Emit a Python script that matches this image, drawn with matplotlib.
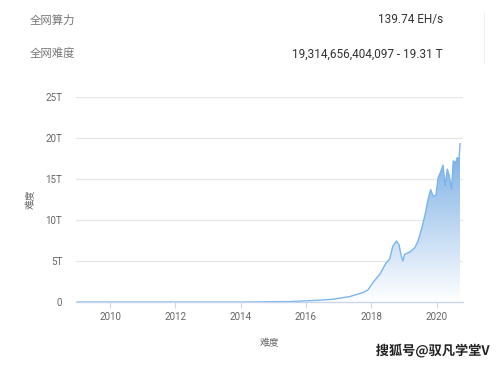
import numpy as np
import matplotlib
matplotlib.use("Agg")
import matplotlib.pyplot as plt
from matplotlib.patches import Polygon
import matplotlib.patheffects as pe

# ---- data (difficulty in T, time as decimal year) ----
years = [2009.0, 2010.0, 2011.0, 2012.0, 2013.0, 2013.5, 2014.0, 2014.5, 2015.0, 2015.5,
         2015.8, 2016.3, 2016.82, 2017.33, 2017.74, 2017.9, 2018.05, 2018.26, 2018.46,
         2018.56, 2018.66, 2018.77, 2018.85, 2018.92, 2018.97, 2019.02, 2019.18, 2019.33,
         2019.43, 2019.54, 2019.64, 2019.74, 2019.82, 2019.9, 2019.98, 2020.05, 2020.12,
         2020.2, 2020.26, 2020.33, 2020.39, 2020.46, 2020.51, 2020.59, 2020.63, 2020.69,
         2020.72]
difficulty = [0.0, 0.0, 0.0, 0.0, 0.0, 0.0, 0.002, 0.016, 0.044, 0.05,
              0.1, 0.2, 0.33, 0.65, 1.14, 1.47, 2.36, 3.38, 4.8,
              5.2, 6.8, 7.44, 7.0, 5.6, 5.0, 5.8, 6.1, 6.6,
              7.4, 8.9, 10.5, 12.5, 13.7, 12.9, 13.0, 15.2, 15.8,
              16.7, 14.2, 16.2, 15.4, 13.7, 17.2, 17.0, 17.6, 17.5,
              19.31]
y_ticks = [0, 5, 10, 15, 20, 25]
y_ticklabels = ["0", "5T", "10T", "15T", "20T", "25T"]
x_ticks = [2010, 2012, 2014, 2016, 2018, 2020]
x_ticklabels = ["2010", "2012", "2014", "2016", "2018", "2020"]
header_labels = ["全网算力", "全网难度"]
header_values = ["139.74 EH/s", "19,314,656,404,097 - 19.31 T"]
axis_title = "难度"
watermark = "搜狐号@驭凡学堂V"

CJK = ["Noto Sans CJK SC", "DejaVu Sans"]
NUM = ["Roboto", "DejaVu Sans"]

W, H = 499, 365
fig = plt.figure(figsize=(W / 100, H / 100), dpi=100)
fig.patch.set_facecolor("white")

L, R, B, T = 76, 463, 302, 97
ax = fig.add_axes([L / W, 1 - B / H, (R - L) / W, (B - T) / H])
ax.set_facecolor("white")
ax.set_xlim(2008.96, 2020.81)
ax.set_ylim(0, 25)

x = np.array(years)
y = np.array(difficulty)

# gradient fill
ymax = y.max()
grad = np.linspace(0, 1, 256).reshape(-1, 1)
c_top = np.array([118, 172, 228]) / 255.0
c_bot = np.array([255, 255, 255]) / 255.0
img = np.zeros((256, 1, 4))
for i in range(3):
    img[:, 0, i] = c_bot[i] + (c_top[i] - c_bot[i]) * grad[:, 0]
img[:, 0, 3] = 1.0
im = ax.imshow(img, aspect="auto", origin="lower",
               extent=[x.min(), x.max(), 0, ymax], zorder=2)
poly = Polygon(np.column_stack([np.r_[x, x[-1], x[0]], np.r_[y, 0, 0]]),
               closed=True, transform=ax.transData, facecolor="none", edgecolor="none")
ax.add_patch(poly)
im.set_clip_path(poly)
ax.plot(x, y, color="#7cb5ec", lw=1.0, zorder=3)

# grid
for t in y_ticks[1:]:
    ax.axhline(t, color="#e6e6e6", lw=0.9, zorder=1)

for s in ["top", "right", "left"]:
    ax.spines[s].set_visible(False)
ax.spines["bottom"].set_color("#ccd6eb")
ax.spines["bottom"].set_linewidth(1.0)
ax.spines["bottom"].set_zorder(4)

ax.set_yticks(y_ticks)
ax.set_yticklabels(y_ticklabels, fontfamily=NUM, fontsize=7, color="#666666")
ax.tick_params(axis="y", length=0, pad=10)
ax.set_xticks(x_ticks)
ax.set_xticklabels(x_ticklabels, fontfamily=NUM, fontsize=7, color="#666666")
ax.tick_params(axis="x", length=4, width=0.8, color="#ccd6eb", pad=3)

ax.set_xlabel(axis_title, fontfamily=CJK, fontsize=7, color="#666666", labelpad=12)
ax.set_ylabel(axis_title, fontfamily=CJK, fontsize=7, color="#666666", labelpad=7)

# header
for i, (lab, val) in enumerate(zip(header_labels, header_values)):
    yy = 1 - (20 + 34 * i) / H
    fig.text(30 / W, yy, lab, fontfamily=CJK, fontsize=8.2, color="#777777", va="center", ha="left")
    fig.text(443 / W, yy, val, fontfamily=NUM, fontsize=8.5, color="#333333", va="center", ha="right")
fig.add_artist(plt.Line2D([484 / W, 484 / W], [1 - 13 / H, 1 - 63 / H], color="#eeeeee", lw=0.8))

# watermark
fig.text(490 / W, 1 - 351 / H, watermark, fontfamily=CJK, fontsize=9.5, fontweight="bold",
         color="#222222", ha="right", va="center",
         path_effects=[pe.withStroke(linewidth=2, foreground="white")])

fig.savefig("out.png", dpi=100, facecolor="white")
